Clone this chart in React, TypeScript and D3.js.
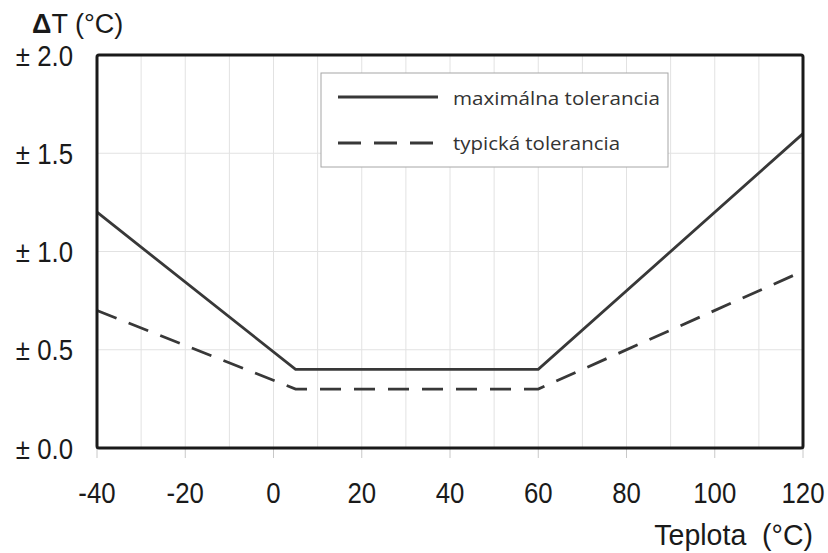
import React from "react";
import * as d3 from "d3";

const W = 828;
const H = 553;

// Data
const maxTemps = [-40, 5, 60, 120];
const maxTol = [1.2, 0.4, 0.4, 1.6];
const typTemps = [-40, 5, 60, 120];
const typTol = [0.7, 0.3, 0.3, 0.9];

const xTicks = [-40, -20, 0, 20, 40, 60, 80, 100, 120];
const xGrid = d3.range(-40, 121, 10);
const yTicks = [0, 0.5, 1.0, 1.5, 2.0];

const seriesNames = ["maximálna tolerancia", "typická tolerancia"];
const xTitle = "Teplota\u00a0 (°C)";

export default function App() {
  const x = d3.scaleLinear().domain([-40, 120]).range([97, 803]);
  const y = d3.scaleLinear().domain([0, 2]).range([448, 55]);
  const line = d3
    .line<[number, number]>()
    .x((d) => x(d[0]))
    .y((d) => y(d[1]));
  const maxPts = maxTemps.map((t, i) => [t, maxTol[i]] as [number, number]);
  const typPts = typTemps.map((t, i) => [t, typTol[i]] as [number, number]);
  const lineColor = "#383838";
  const font = "'Liberation Sans', Arial, sans-serif";

  return (
    <svg
      width={W}
      height={H}
      style={{ position: "absolute", left: 0, top: 0, background: "#fff" }}
    >
      {/* grid */}
      <g stroke="#e2e2e2" strokeWidth={1}>
        {xGrid.map((v) => (
          <line key={"gx" + v} x1={x(v)} x2={x(v)} y1={y(2)} y2={y(0)} />
        ))}
        {yTicks.map((v) => (
          <line key={"gy" + v} x1={x(-40)} x2={x(120)} y1={y(v)} y2={y(v)} />
        ))}
      </g>
      {/* x tick marks */}
      <g stroke="#c8c8c8" strokeWidth={1}>
        {xTicks.map((v) => (
          <line key={"tx" + v} x1={x(v)} x2={x(v)} y1={y(0)} y2={y(0) + 10} />
        ))}
      </g>
      {/* series */}
      <path d={line(typPts) || ""} fill="none" stroke={lineColor} strokeWidth={2.8} strokeDasharray="21 13" />
      <path d={line(maxPts) || ""} fill="none" stroke={lineColor} strokeWidth={2.8} />
      {/* frame */}
      <rect
        x={x(-40)}
        y={y(2)}
        width={x(120) - x(-40)}
        height={y(0) - y(2)}
        fill="none"
        stroke="#1a1a1a"
        strokeWidth={3}
        rx={2}
      />
      {/* y tick labels */}
      {yTicks.map((v) => (
        <text
          key={"ly" + v}
          transform={`translate(73,${y(v) + 10.5}) scale(0.86,1)`}
          textAnchor="end"
          fontFamily={font}
          fontSize={30}
          fill="#1a1a1a"
        >
          {"± " + v.toFixed(1)}
        </text>
      ))}
      {/* x tick labels */}
      {xTicks.map((v) => (
        <text
          key={"lx" + v}
          transform={`translate(${x(v)},${y(0) + 55}) scale(0.86,1)`}
          textAnchor="middle"
          fontFamily={font}
          fontSize={30}
          fill="#1a1a1a"
        >
          {String(v)}
        </text>
      ))}
      {/* axis titles */}
      <text
        transform={`translate(813,545) scale(0.95,1)`}
        textAnchor="end"
        fontFamily={font}
        fontSize={30}
        fill="#1a1a1a"
      >
        {xTitle}
      </text>
      <text x={32} y={33} fontFamily={font} fontSize={27} fill="#1a1a1a">
        <tspan fontWeight="bold">Δ</tspan>
        <tspan>T (°C)</tspan>
      </text>
      {/* legend */}
      <rect x={321} y={73} width={347} height={94} fill="#fff" stroke="#a6a6a6" strokeWidth={1} />
      <line x1={338} x2={438} y1={97} y2={97} stroke={lineColor} strokeWidth={2.8} />
      <line x1={338} x2={438} y1={143} y2={143} stroke={lineColor} strokeWidth={2.8} strokeDasharray="23 13" />
      <text
        x={453}
        y={105}
        fontFamily="'Open Sans', 'Noto Sans', sans-serif"
        fontSize={19}
        fill="#333"
        textLength={207}
        lengthAdjust="spacingAndGlyphs"
      >
        {seriesNames[0]}
      </text>
      <text
        x={453}
        y={150}
        fontFamily="'Open Sans', 'Noto Sans', sans-serif"
        fontSize={19}
        fill="#333"
        textLength={167}
        lengthAdjust="spacingAndGlyphs"
      >
        {seriesNames[1]}
      </text>
    </svg>
  );
}
